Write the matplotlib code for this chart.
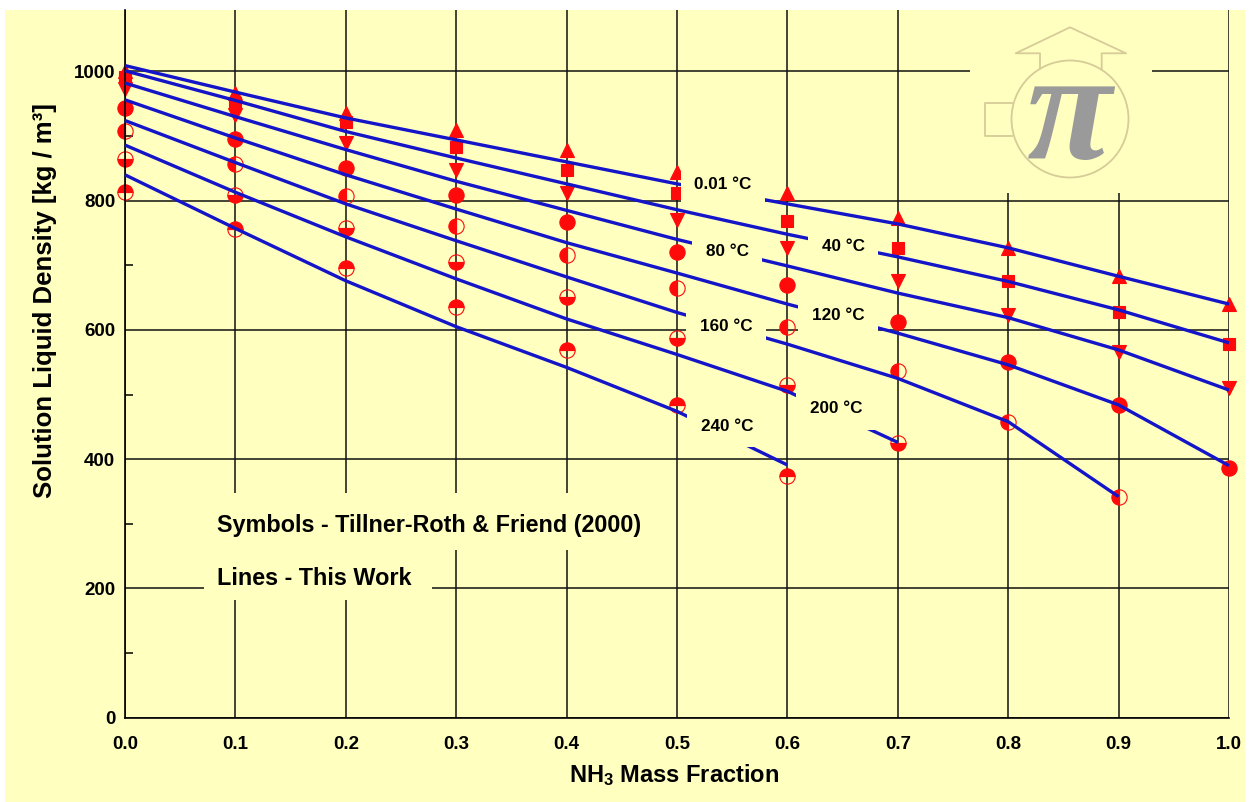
import numpy as np
import matplotlib
matplotlib.use("Agg")
import matplotlib.pyplot as plt
from matplotlib.patches import Rectangle, Circle
from matplotlib.lines import Line2D

# ---------------- data ----------------
x_frac = [0.0, 0.1, 0.2, 0.3, 0.4, 0.5, 0.6, 0.7, 0.8, 0.9, 1.0]
x_labels = ["0.0", "0.1", "0.2", "0.3", "0.4", "0.5", "0.6", "0.7", "0.8", "0.9", "1.0"]
y_major = [0, 200, 400, 600, 800, 1000]
y_minor = [100, 300, 500, 700, 900]

temps = ["0.01 °C", "40 °C", "80 °C", "120 °C", "160 °C", "200 °C", "240 °C"]

# Symbols - Tillner-Roth & Friend (2000)
sym_001 = [1000, 967, 936, 910, 879, 845, 812, 773, 727, 683, 640]
sym_040 = [992, 951, 922, 883, 848, 812, 768, 727, 675, 628, 578]
sym_080 = [972, 933, 889, 848, 812, 770, 727, 675, 623, 566, 510]
sym_120 = [944, 896, 851, 809, 767, 721, 670, 613, 551, 484, 386]
sym_160 = [908, 857, 807, 761, 716, 665, 605, 537, 458, 342]
sym_200 = [865, 809, 758, 705, 651, 588, 515, 425]
sym_240 = [814, 756, 696, 636, 569, 484, 374]

# Lines - This Work
line_001 = [1009, 968, 928, 894, 860, 826, 795, 764, 727, 683, 640]
line_040 = [1001, 955, 907, 866, 826, 786, 748, 713, 675, 631, 580]
line_080 = [982, 930, 879, 830, 785, 740, 699, 657, 619, 569, 507]
line_120 = [956, 897, 840, 787, 735, 688, 640, 595, 546, 484, 390]
line_160 = [924, 859, 795, 738, 682, 627, 578, 525, 458, 342]
line_200 = [886, 813, 744, 679, 617, 562, 505, 426]
line_240 = [840, 757, 676, 605, 542, 474, 391]

symbols = [sym_001, sym_040, sym_080, sym_120, sym_160, sym_200, sym_240]
lines = [line_001, line_040, line_080, line_120, line_160, line_200, line_240]

# ---------------- layout / style ----------------
label_pos = [(0.5417, 825), (0.6504, 729), (0.5453, 721), (0.6458, 622),
             (0.5444, 605), (0.6440, 478), (0.5453, 451)]
marker_styles = [
    dict(marker="^", ms=10.5, fillstyle="full"),
    dict(marker="s", ms=9, fillstyle="full"),
    dict(marker="v", ms=10.5, fillstyle="full"),
    dict(marker="o", ms=11, fillstyle="full"),
    dict(marker="o", ms=11, fillstyle="left"),
    dict(marker="o", ms=11, fillstyle="bottom"),
    dict(marker="o", ms=11, fillstyle="top"),
]

BG = "#FFFFC0"
BLUE = "#1414C8"
RED = "#FF0A0A"
LOGO = "#D6CC98"

plt.rcParams["font.family"] = ["Liberation Sans", "DejaVu Sans"]
plt.rcParams["font.weight"] = "bold"
plt.rcParams["mathtext.fontset"] = "custom"
plt.rcParams["mathtext.rm"] = "Liberation Sans:bold"
plt.rcParams["mathtext.it"] = "Liberation Sans:bold"
plt.rcParams["mathtext.bf"] = "Liberation Sans:bold"

W, H = 1251, 802
fig = plt.figure(figsize=(W / 100, H / 100), dpi=100, facecolor="white")
fig.patches.append(Rectangle((5 / W, 0), (1245 - 5) / W, 1 - 10 / H,
                             transform=fig.transFigure, facecolor=BG,
                             edgecolor="none", zorder=-10))

x0_px, x1_px, yb_px, yt_px = 125, 1229, 717.7, 10
ax = fig.add_axes([x0_px / W, (H - yb_px) / H, (x1_px - x0_px) / W, (yb_px - yt_px) / H])
ax.set_facecolor(BG)
ax.set_xlim(0, 1.0)
ax.set_ylim(0, 1095)

for s in ["top", "right"]:
    ax.spines[s].set_visible(False)
for s in ["left", "bottom"]:
    ax.spines[s].set_color("black")
    ax.spines[s].set_linewidth(1.2)

ax.set_xticks(x_frac)
ax.set_xticklabels(x_labels)
ax.set_yticks(y_major)
ax.set_yticks(y_minor, minor=True)
ax.set_axisbelow(True)
ax.grid(True, which="major", color="#111111", lw=1.1)
ax.tick_params(which="major", length=0, labelsize=13.5)
ax.tick_params(axis="x", which="major", pad=13)
ax.tick_params(axis="y", which="major", pad=7)
ax.tick_params(axis="y", which="minor", direction="in", length=6, width=1.1, color="black")
for lab in ax.get_xticklabels() + ax.get_yticklabels():
    lab.set_fontweight("bold")

ax.set_ylabel("Solution Liquid Density [kg / m³]", fontsize=18.5, fontweight="bold", va="center")
ax.yaxis.set_label_coords(-0.0725, 0.590)
ax.set_xlabel(r"NH$_3$ Mass Fraction", fontsize=17, fontweight="bold", va="center")
ax.xaxis.set_label_coords(0.497, -0.081)

# curves and symbols
for vals, lv, st in zip(symbols, lines, marker_styles):
    ax.plot(x_frac[:len(lv)], lv, color=BLUE, lw=2.4, zorder=3, clip_on=False,
            solid_capstyle="butt", solid_joinstyle="round")
    ax.plot(x_frac[:len(vals)], vals, ls="none", color=RED, mfc=RED, mec=RED,
            mfcalt="none", mew=0.8, zorder=2, clip_on=False, **st)

# temperature labels (yellow boxes break the lines and grid)
for t, (lx, ly) in zip(temps, label_pos):
    ax.text(lx, ly, t, fontsize=12.3, fontweight="bold", ha="center", va="center",
            zorder=4, bbox=dict(boxstyle="square,pad=0.8", facecolor=BG, edgecolor="none"))

# annotation boxes
ax.add_patch(Rectangle((0.072, 259.6), 0.485 - 0.072, 347.8 - 259.6,
                       facecolor=BG, edgecolor="none", zorder=1.5))
ax.add_patch(Rectangle((0.072, 182), 0.278 - 0.072, 259.6 - 182,
                       facecolor=BG, edgecolor="none", zorder=1.5))
ax.text(0.0833, 298, "Symbols - Tillner-Roth & Friend (2000)", fontsize=16.8,
        fontweight="bold", ha="left", va="center", zorder=5)
ax.text(0.0833, 216, "Lines - This Work", fontsize=16.8,
        fontweight="bold", ha="left", va="center", zorder=5)

# logo (pixel coordinates)
lx0, lx1, ly0, ly1 = 970, 1152, 10, 193
lg = fig.add_axes([lx0 / W, (H - ly1) / H, (lx1 - lx0) / W, (ly1 - ly0) / H])
lg.set_xlim(lx0, lx1)
lg.set_ylim(ly1, ly0)
lg.set_facecolor(BG)
lg.set_xticks([])
lg.set_yticks([])
for s in lg.spines.values():
    s.set_visible(False)
lg.add_patch(Circle((1070, 119), 58.5, fill=False, edgecolor=LOGO, lw=1.3))
lg.add_line(Line2D([1012, 985, 985, 1012], [103, 103, 136, 136], color=LOGO, lw=1.3))
lg.add_line(Line2D([1040, 1040, 1015.7, 1070, 1126, 1101.7, 1101.7],
                   [68.8, 53.3, 53.3, 27.3, 53.3, 53.3, 69.8], color=LOGO, lw=1.3))
lg.text(1069, 104, "π", fontsize=112, family="Liberation Serif", style="italic",
        fontweight="bold", color="#9A9A9A", ha="center", va="center_baseline")

fig.savefig("out.png", dpi=100, facecolor="white")
